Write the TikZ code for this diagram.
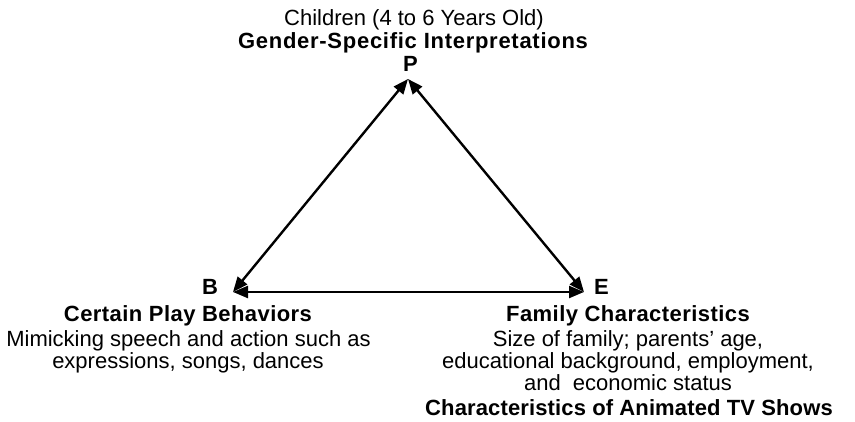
\documentclass[tikz,border=0pt]{standalone}
\usepackage{fontspec}
\setmainfont{Liberation Sans}
\usetikzlibrary{arrows.meta}
\begin{document}
\begin{tikzpicture}[x=1pt,y=-1pt,
  txt/.style={inner sep=0pt, anchor=base, font=\fontsize{22}{22}\selectfont},
  btxt/.style={inner sep=0pt, anchor=base, font=\fontsize{22}{22}\selectfont\bfseries\addfontfeature{LetterSpace=#1}},
  btxt/.default=2,
  link/.style={line width=2.4pt, {Triangle[length=15pt,width=12pt]}-{Triangle[length=15pt,width=12pt]}}
]
\useasboundingbox (0,0) rectangle (855,422);
% corners
\coordinate (pc) at (408,79);
\coordinate (bc) at (233,292);
\coordinate (ec) at (584,292);
% top texts
\node[txt] (children) at (414,26) {Children (4 to 6 Years Old)};
\node[btxt=3.3] (gender) at (413,49) {Gender-Specific Interpretations};
\node[btxt=0] (P) at (410.5,71.5) {P};
% B texts
\node[btxt=0] (B) at (210,295) {B};
\node[btxt] (play) at (188,321.5) {Certain Play Behaviors};
\node[txt] (mimic) at (188.5,346.5) {Mimicking speech and action such as};
\node[txt] (expr) at (188,369) {expressions, songs, dances};
% E texts
\node[btxt=0] (E) at (601.5,295) {E};
\node[btxt] (family) at (628,321.5) {Family Characteristics};
\node[txt] (size) at (628,346.5) {Size of family; parents’ age,};
\node[txt] (edu) at (628,369) {educational background, employment,};
\node[txt] (econ) at (628,390.5) {and\ \ economic status};
\node[btxt=0.6] (tv) at (629,415) {Characteristics of Animated TV Shows};
% connectors
\draw[link] (bc) -- (pc);
\draw[link] (pc) -- (ec);
\draw[link] (bc) -- (ec);
\end{tikzpicture}
\end{document}
